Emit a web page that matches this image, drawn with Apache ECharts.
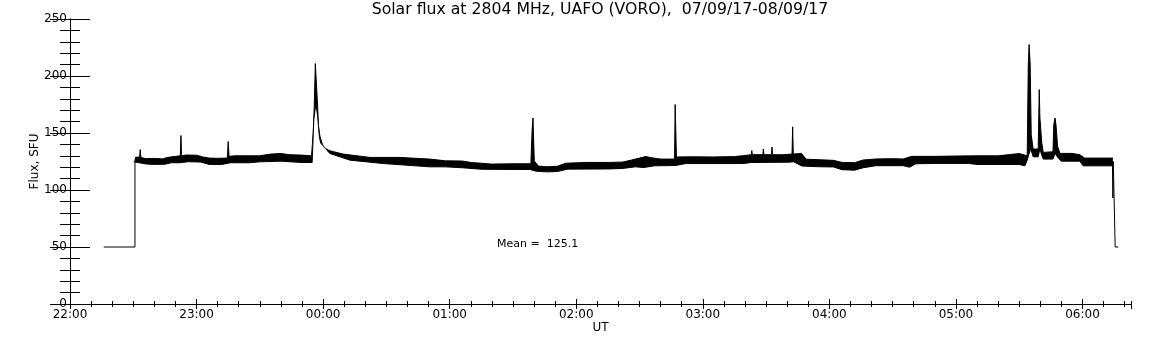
<!DOCTYPE html>
<html>
<head>
<meta charset="utf-8">
<title>Solar flux 2804 MHz</title>
<script src="https://cdn.jsdelivr.net/npm/echarts@6/dist/echarts.min.js"></script>
<style>
  html, body { margin: 0; padding: 0; background: #fff; }
  #chart { width: 1152px; height: 345px; }
</style>
</head>
<body>
<div id="chart"></div>
<script>
// time is minutes after 22:00 UT
const hourLabels = ['22:00', '23:00', '00:00', '01:00', '02:00', '03:00', '04:00', '05:00', '06:00']
const meanFlux = 125.1

// upper edge of the noisy record (incl. bursts)
const hiT = [30.8, 33.0, 33.3, 33.6, 36, 40, 44, 46, 50, 52.3, 52.6, 52.9, 55, 60, 63, 66, 70, 74.6, 75.0, 75.4, 78, 82, 85,
  90, 95, 100, 104, 110, 114.5, 115.3, 115.8, 116.3, 116.7, 117.4, 117.8, 118.5, 120.1, 123.2, 129.5, 142.2, 156.4, 170.6,
  178, 186, 190, 200, 210, 218.5, 219.1, 219.5, 219.8, 220.1, 222, 226, 231, 235, 245, 256,
  262, 266, 270, 273, 275, 280, 286.6, 286.9, 287.2, 287.5, 295, 305, 315, 321, 323.0, 323.2, 323.5, 328.5, 328.7, 329.0, 332.6, 332.8, 333.1, 338,
  342.3, 342.6, 342.9, 346.8, 349, 355, 362, 366, 372, 376, 382, 390, 395, 399, 410, 420,
  430, 440, 450, 453.8, 454.3, 454.7, 455.2, 455.7, 456.6, 459.0, 459.5, 459.8, 460.4, 460.7, 461.4, 466.0, 466.4, 467.0, 467.5, 468.2, 469.3, 475, 478.7, 481, 488, 494.4]
const hiV = [128.6, 129, 135.5, 128.5, 127.5, 127.7, 127.3, 128.5, 129.5, 130, 147.8, 130, 130.7, 130.5, 129, 128, 127.8, 128, 142.5, 129.5, 130, 130, 130,
  130, 131.5, 132, 131, 130.6, 130, 150, 173.5, 210.9, 210, 173.5, 155.9, 147.1, 137.3, 134.4, 131.5, 128.6, 128.6, 127.1,
  125.6, 125.4, 124.2, 122.7, 123, 123, 153.6, 163.2, 163, 125.6, 121, 120.4, 120.8, 123.5, 124.2, 124.2,
  124.5, 126.2, 128, 129.4, 128.5, 127.1, 127.1, 175, 175, 129, 129.1, 129, 129.3, 130.5, 131, 134.5, 131, 131, 136, 131, 131, 137.8, 131, 130.9,
  131.5, 155.4, 131.5, 132.1, 127, 126.6, 126, 124.2, 124, 126.3, 127.2, 127.5, 127.2, 129.5, 129.5, 129.8,
  130, 130, 132, 130, 210, 227.6, 210, 148.6, 135.9, 136, 188.1, 164.1, 164.1, 141.3, 133, 133.5, 157.4, 163.2, 155.9, 138.4, 132.1, 132.1, 131, 128, 128, 128]

// lower edge of the noisy record
const loT = [30.2, 30.8, 36, 40, 45, 48, 52, 56, 62, 66, 72, 76, 85,
  90, 100, 110, 114.8, 115.6, 116.6, 117.4, 118.2, 118.8, 120.9, 123.2, 132.7, 148.5, 170.6,
  178, 186, 195, 210, 218, 221, 226, 231, 236, 256,
  262, 268, 272, 277, 287, 292, 319, 323, 341,
  343, 347, 355, 362, 366, 372, 376, 382, 395, 398, 401, 410, 426,
  430, 450, 452.7, 453.8, 454.5, 455.5, 456.6, 459, 459.8, 460.6, 461.4, 466, 467, 468.5, 470, 478.7, 480.3, 494.4, 495.0]
const loV = [124.8, 124.8, 122.8, 122.4, 122.6, 123.9, 123.9, 124.8, 124.5, 122.4, 122.4, 123.9, 123.9,
  124.7, 125.3, 124.1, 124.1, 161.8, 176.4, 164.7, 147.1, 141.3, 136.9, 132, 126.2, 123.2, 120.3,
  120.3, 119.5, 118.2, 118, 118, 116.5, 115.9, 116.2, 118.3, 118.5,
  118.9, 120.3, 119.7, 121.2, 121.5, 123.2, 123.2, 124.1, 124.4,
  124.8, 121, 120.4, 120.2, 117.8, 117.4, 119.5, 121.3, 121.3, 120, 123, 123.3, 123.3,
  122.4, 122.4, 121.2, 126.2, 131, 136, 129.1, 129.1, 136, 131, 127.1, 127.1, 132, 128, 125.3, 125.3, 121.2, 121.2, 121.2]

// start-up and shut-down steps (null splits the two pieces)
const stepT = [16, 30.8, 30.8, null, 494.2, 494.4, 494.6, 495.3, 495.5, 497]
const stepV = [50, 50, 127, null, 125, 93, 125, 125, 50, 50]

const FONT = 'DejaVu Sans'
const pairs = (ts, vs) => ts.map((t, i) => (t === null ? [null, null] : [t, vs[i]]))

const chart = echarts.init(document.getElementById('chart'), null, { renderer: 'canvas' })

const tick = (len) => ({ show: true, inside: true, length: len, lineStyle: { color: '#000', width: 1 } })
const xBase = {
  type: 'value',
  min: 0,
  max: 503,
  splitLine: { show: false },
  axisLine: { show: true, lineStyle: { color: '#000', width: 1 } },
  axisLabel: { show: false },
  z: 10
}
const yBase = {
  type: 'value',
  min: 0,
  max: 250,
  splitLine: { show: false },
  axisLine: { show: true, lineStyle: { color: '#000', width: 1 } },
  axisLabel: { show: false },
  z: 10
}

chart.setOption({
  animation: false,
  backgroundColor: '#fff',
  title: {
    text: 'Solar flux at 2804 MHz, UAFO (VORO),  07/09/17-08/09/17',
    left: 600,
    top: 2,
    textAlign: 'center',
    padding: 0,
    textStyle: { fontFamily: FONT, fontSize: 15.7, fontWeight: 'normal', color: '#000' }
  },
  grid: { left: 70, right: 21, top: 19, bottom: 41, containLabel: false, outerBoundsMode: 'none' },
  xAxis: [
    Object.assign({}, xBase, {
      position: 'bottom',
      interval: 60,
      axisTick: tick(5),
      axisLabel: {
        show: true, showMaxLabel: false, margin: 5, color: '#000', fontFamily: FONT, fontSize: 12,
        formatter: v => hourLabels[Math.round(v / 60)] || ''
      },
      name: 'UT',
      nameLocation: 'middle',
      nameGap: 18,
      nameMoveOverlap: false,
      nameTextStyle: { color: '#000', fontFamily: FONT, fontSize: 12 }
    }),
    Object.assign({}, xBase, { position: 'bottom', interval: 10, axisLine: { show: false }, axisTick: tick(3) }),
    Object.assign({}, xBase, { position: 'top', interval: 60, axisTick: tick(5) }),
    Object.assign({}, xBase, { position: 'top', interval: 10, axisLine: { show: false }, axisTick: tick(3) })
  ],
  yAxis: [
    Object.assign({}, yBase, {
      position: 'left',
      interval: 50,
      axisTick: tick(20),
      axisLabel: { show: true, margin: 3, color: '#000', fontFamily: FONT, fontSize: 12 },
      name: 'Flux, SFU',
      nameLocation: 'middle',
      nameGap: 29,
      nameMoveOverlap: false,
      nameTextStyle: { color: '#000', fontFamily: FONT, fontSize: 12 }
    }),
    Object.assign({}, yBase, { position: 'left', interval: 10, axisLine: { show: false }, axisTick: tick(10) }),
    Object.assign({}, yBase, { position: 'right', interval: 50, axisTick: tick(20) }),
    Object.assign({}, yBase, { position: 'right', interval: 10, axisLine: { show: false }, axisTick: tick(10) })
  ],
  graphic: [{
    type: 'text',
    left: 497,
    top: 239,
    z: 100,
    style: { text: 'Mean =  ' + meanFlux.toFixed(1), fill: '#000', font: '11px "DejaVu Sans"' }
  }],
  series: [
    {
      name: 'upper',
      type: 'line',
      xAxisIndex: 0,
      yAxisIndex: 0,
      data: pairs(hiT, hiV),
      symbol: 'none',
      silent: true,
      z: 2,
      lineStyle: { color: '#000', width: 1 },
      areaStyle: { color: '#000', opacity: 1, origin: 'start' }
    },
    {
      name: 'lower',
      type: 'line',
      xAxisIndex: 0,
      yAxisIndex: 0,
      data: pairs(loT, loV),
      symbol: 'none',
      silent: true,
      z: 3,
      lineStyle: { color: '#000', width: 1 },
      areaStyle: { color: '#fff', opacity: 1, origin: 'start' }
    },
    {
      name: 'steps',
      type: 'line',
      xAxisIndex: 0,
      yAxisIndex: 0,
      data: pairs(stepT, stepV),
      connectNulls: false,
      symbol: 'none',
      silent: true,
      z: 4,
      lineStyle: { color: '#000', width: 1 }
    }
  ]
})
</script>
</body>
</html>
